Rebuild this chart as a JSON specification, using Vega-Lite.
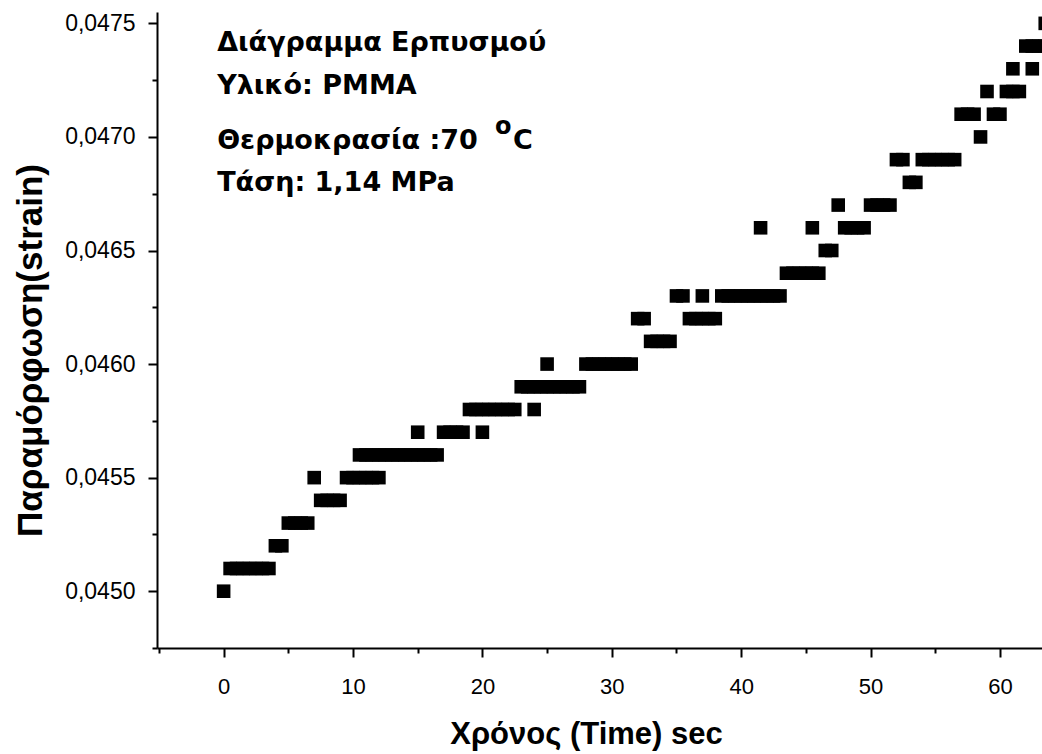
{
  "$schema": "https://vega.github.io/schema/vega-lite/v6.json",
  "width": 885,
  "height": 636,
  "autosize": {"type": "none"},
  "padding": {"left": 157, "top": 12, "right": 0, "bottom": 106},
  "background": "white",
  "config": {"view": {"stroke": null}, "axis": {"grid": false}},
  "datasets": {
    "creep": [
      {"t": 0, "strain": 0.0450},
      {"t": 0.5, "strain": 0.0451}, {"t": 1, "strain": 0.0451}, {"t": 1.5, "strain": 0.0451}, {"t": 2, "strain": 0.0451}, {"t": 2.5, "strain": 0.0451}, {"t": 3, "strain": 0.0451}, {"t": 3.5, "strain": 0.0451},
      {"t": 4, "strain": 0.0452}, {"t": 4.5, "strain": 0.0452},
      {"t": 5, "strain": 0.0453}, {"t": 5.5, "strain": 0.0453}, {"t": 6, "strain": 0.0453}, {"t": 6.5, "strain": 0.0453},
      {"t": 7, "strain": 0.0455},
      {"t": 7.5, "strain": 0.0454}, {"t": 8, "strain": 0.0454}, {"t": 8.5, "strain": 0.0454}, {"t": 9, "strain": 0.0454},
      {"t": 9.5, "strain": 0.0455}, {"t": 10, "strain": 0.0455}, {"t": 10.5, "strain": 0.0455}, {"t": 11, "strain": 0.0455}, {"t": 11.5, "strain": 0.0455}, {"t": 12, "strain": 0.0455},
      {"t": 10.5, "strain": 0.0456}, {"t": 11, "strain": 0.0456}, {"t": 11.5, "strain": 0.0456}, {"t": 12, "strain": 0.0456}, {"t": 12.5, "strain": 0.0456}, {"t": 13, "strain": 0.0456}, {"t": 13.5, "strain": 0.0456}, {"t": 14, "strain": 0.0456}, {"t": 14.5, "strain": 0.0456}, {"t": 15, "strain": 0.0456}, {"t": 15.5, "strain": 0.0456}, {"t": 16, "strain": 0.0456}, {"t": 16.5, "strain": 0.0456},
      {"t": 15, "strain": 0.0457}, {"t": 17, "strain": 0.0457}, {"t": 17.5, "strain": 0.0457}, {"t": 18, "strain": 0.0457}, {"t": 18.5, "strain": 0.0457}, {"t": 20, "strain": 0.0457},
      {"t": 19, "strain": 0.0458}, {"t": 19.5, "strain": 0.0458}, {"t": 20, "strain": 0.0458}, {"t": 20.5, "strain": 0.0458}, {"t": 21, "strain": 0.0458}, {"t": 21.5, "strain": 0.0458}, {"t": 22, "strain": 0.0458}, {"t": 22.5, "strain": 0.0458}, {"t": 24, "strain": 0.0458},
      {"t": 23, "strain": 0.0459}, {"t": 23.5, "strain": 0.0459}, {"t": 24, "strain": 0.0459}, {"t": 24.5, "strain": 0.0459}, {"t": 25, "strain": 0.0459}, {"t": 25.5, "strain": 0.0459}, {"t": 26, "strain": 0.0459}, {"t": 26.5, "strain": 0.0459}, {"t": 27, "strain": 0.0459}, {"t": 27.5, "strain": 0.0459},
      {"t": 25, "strain": 0.0460}, {"t": 28, "strain": 0.0460}, {"t": 28.5, "strain": 0.0460}, {"t": 29, "strain": 0.0460}, {"t": 29.5, "strain": 0.0460}, {"t": 30, "strain": 0.0460}, {"t": 30.5, "strain": 0.0460}, {"t": 31, "strain": 0.0460}, {"t": 31.5, "strain": 0.0460},
      {"t": 33, "strain": 0.0461}, {"t": 33.5, "strain": 0.0461}, {"t": 34, "strain": 0.0461}, {"t": 34.5, "strain": 0.0461},
      {"t": 32, "strain": 0.0462}, {"t": 32.5, "strain": 0.0462}, {"t": 36, "strain": 0.0462}, {"t": 36.5, "strain": 0.0462}, {"t": 37, "strain": 0.0462}, {"t": 37.5, "strain": 0.0462}, {"t": 38, "strain": 0.0462},
      {"t": 35, "strain": 0.0463}, {"t": 35.5, "strain": 0.0463}, {"t": 37, "strain": 0.0463}, {"t": 38.5, "strain": 0.0463}, {"t": 39, "strain": 0.0463}, {"t": 39.5, "strain": 0.0463}, {"t": 40, "strain": 0.0463}, {"t": 40.5, "strain": 0.0463}, {"t": 41, "strain": 0.0463}, {"t": 41.5, "strain": 0.0463}, {"t": 42, "strain": 0.0463}, {"t": 42.5, "strain": 0.0463}, {"t": 43, "strain": 0.0463},
      {"t": 43.5, "strain": 0.0464}, {"t": 44, "strain": 0.0464}, {"t": 44.5, "strain": 0.0464}, {"t": 45, "strain": 0.0464}, {"t": 45.5, "strain": 0.0464}, {"t": 46, "strain": 0.0464},
      {"t": 46.5, "strain": 0.0465}, {"t": 47, "strain": 0.0465},
      {"t": 41.5, "strain": 0.0466}, {"t": 45.5, "strain": 0.0466}, {"t": 48, "strain": 0.0466}, {"t": 48.5, "strain": 0.0466}, {"t": 49, "strain": 0.0466}, {"t": 49.5, "strain": 0.0466},
      {"t": 47.5, "strain": 0.0467}, {"t": 50, "strain": 0.0467}, {"t": 50.5, "strain": 0.0467}, {"t": 51, "strain": 0.0467}, {"t": 51.5, "strain": 0.0467},
      {"t": 53, "strain": 0.0468}, {"t": 53.5, "strain": 0.0468},
      {"t": 52, "strain": 0.0469}, {"t": 52.5, "strain": 0.0469}, {"t": 54, "strain": 0.0469}, {"t": 54.5, "strain": 0.0469}, {"t": 55, "strain": 0.0469}, {"t": 55.5, "strain": 0.0469}, {"t": 56, "strain": 0.0469}, {"t": 56.5, "strain": 0.0469},
      {"t": 58.5, "strain": 0.0470},
      {"t": 57, "strain": 0.0471}, {"t": 57.5, "strain": 0.0471}, {"t": 58, "strain": 0.0471}, {"t": 59.5, "strain": 0.0471}, {"t": 60, "strain": 0.0471},
      {"t": 59, "strain": 0.0472}, {"t": 60.5, "strain": 0.0472}, {"t": 61, "strain": 0.0472}, {"t": 61.5, "strain": 0.0472},
      {"t": 61, "strain": 0.0473}, {"t": 62.5, "strain": 0.0473},
      {"t": 62, "strain": 0.0474}, {"t": 62.5, "strain": 0.0474}, {"t": 63, "strain": 0.0474}, {"t": 63.5, "strain": 0.0474},
      {"t": 63.5, "strain": 0.0475}
    ]
  },
  "layer": [
    {
      "data": {"name": "creep"},
      "mark": {"type": "square", "size": 185, "filled": true, "color": "black", "opacity": 1, "clip": true},
      "encoding": {
        "x": {
          "field": "t", "type": "quantitative",
          "scale": {"domain": [-5.15, 63.25], "nice": false, "zero": false},
          "axis": {
            "values": [-5, 0, 5, 10, 15, 20, 25, 30, 35, 40, 45, 50, 55, 60],
            "labelExpr": "datum.value % 10 === 0 ? datum.label : ''",
            "tickSize": {"condition": {"test": "datum.value % 10 !== 0", "value": 5}, "value": 9},
            "tickWidth": 2, "tickColor": "black",
            "domainColor": "black", "domainWidth": 2,
            "labelFont": "Liberation Sans", "labelFontSize": 22, "labelColor": "black", "labelPadding": 19,
            "title": "Χρόνος (Time) sec",
            "titleFont": "Liberation Sans", "titleFontSize": 31, "titleFontWeight": "bold", "titleColor": "black", "titlePadding": 22,
            "titleX": 429
          }
        },
        "y": {
          "field": "strain", "type": "quantitative",
          "scale": {"domain": [0.04475, 0.04755], "nice": false, "zero": false},
          "axis": {
            "values": [0.04475, 0.045, 0.04525, 0.0455, 0.04575, 0.046, 0.04625, 0.0465, 0.04675, 0.047, 0.04725, 0.0475],
            "labelExpr": "round(datum.value*20000) % 10 === 0 ? replace(format(datum.value, '.4f'), '.', ',') : ''",
            "tickSize": {"condition": {"test": "round(datum.value*20000) % 10 !== 0", "value": 5}, "value": 9},
            "tickWidth": 2, "tickColor": "black",
            "domainColor": "black", "domainWidth": 2,
            "labelFont": "Liberation Sans", "labelFontSize": 23, "labelColor": "black", "labelPadding": 13,
            "title": "Παραμόρφωση(strain)",
            "titleFont": "Liberation Sans", "titleFontSize": 35, "titleFontWeight": "bold", "titleColor": "black", "titlePadding": 16,
            "titleY": 338
          }
        }
      }
    },
    {
      "data": {"values": [{}]},
      "mark": {"type": "text", "text": "Διάγραμμα Ερπυσμού", "font": "DejaVu Sans", "fontSize": 27, "fontWeight": "bold", "align": "left", "baseline": "alphabetic", "color": "black"},
      "encoding": {"x": {"datum": -0.5}, "y": {"datum": 0.047377}}
    },
    {
      "data": {"values": [{}]},
      "mark": {"type": "text", "text": "Υλικό: PMMA", "font": "DejaVu Sans", "fontSize": 27, "fontWeight": "bold", "align": "left", "baseline": "alphabetic", "color": "black"},
      "encoding": {"x": {"datum": -0.5}, "y": {"datum": 0.047189}}
    },
    {
      "data": {"values": [{}]},
      "mark": {"type": "text", "text": "Θερμοκρασία :70", "font": "DejaVu Sans", "fontSize": 27, "fontWeight": "bold", "align": "left", "baseline": "alphabetic", "color": "black"},
      "encoding": {"x": {"datum": -0.5}, "y": {"datum": 0.046947}}
    },
    {
      "data": {"values": [{}]},
      "mark": {"type": "text", "text": "o", "font": "DejaVu Sans", "fontSize": 24, "fontWeight": "bold", "align": "left", "baseline": "alphabetic", "color": "black"},
      "encoding": {"x": {"datum": 20.98}, "y": {"datum": 0.047013}}
    },
    {
      "data": {"values": [{}]},
      "mark": {"type": "text", "text": "C", "font": "DejaVu Sans", "fontSize": 27, "fontWeight": "bold", "align": "left", "baseline": "alphabetic", "color": "black"},
      "encoding": {"x": {"datum": 22.37}, "y": {"datum": 0.046947}}
    },
    {
      "data": {"values": [{}]},
      "mark": {"type": "text", "text": "Τάση: 1,14 MPa", "font": "DejaVu Sans", "fontSize": 27, "fontWeight": "bold", "align": "left", "baseline": "alphabetic", "color": "black"},
      "encoding": {"x": {"datum": -0.5}, "y": {"datum": 0.046763}}
    }
  ]
}
